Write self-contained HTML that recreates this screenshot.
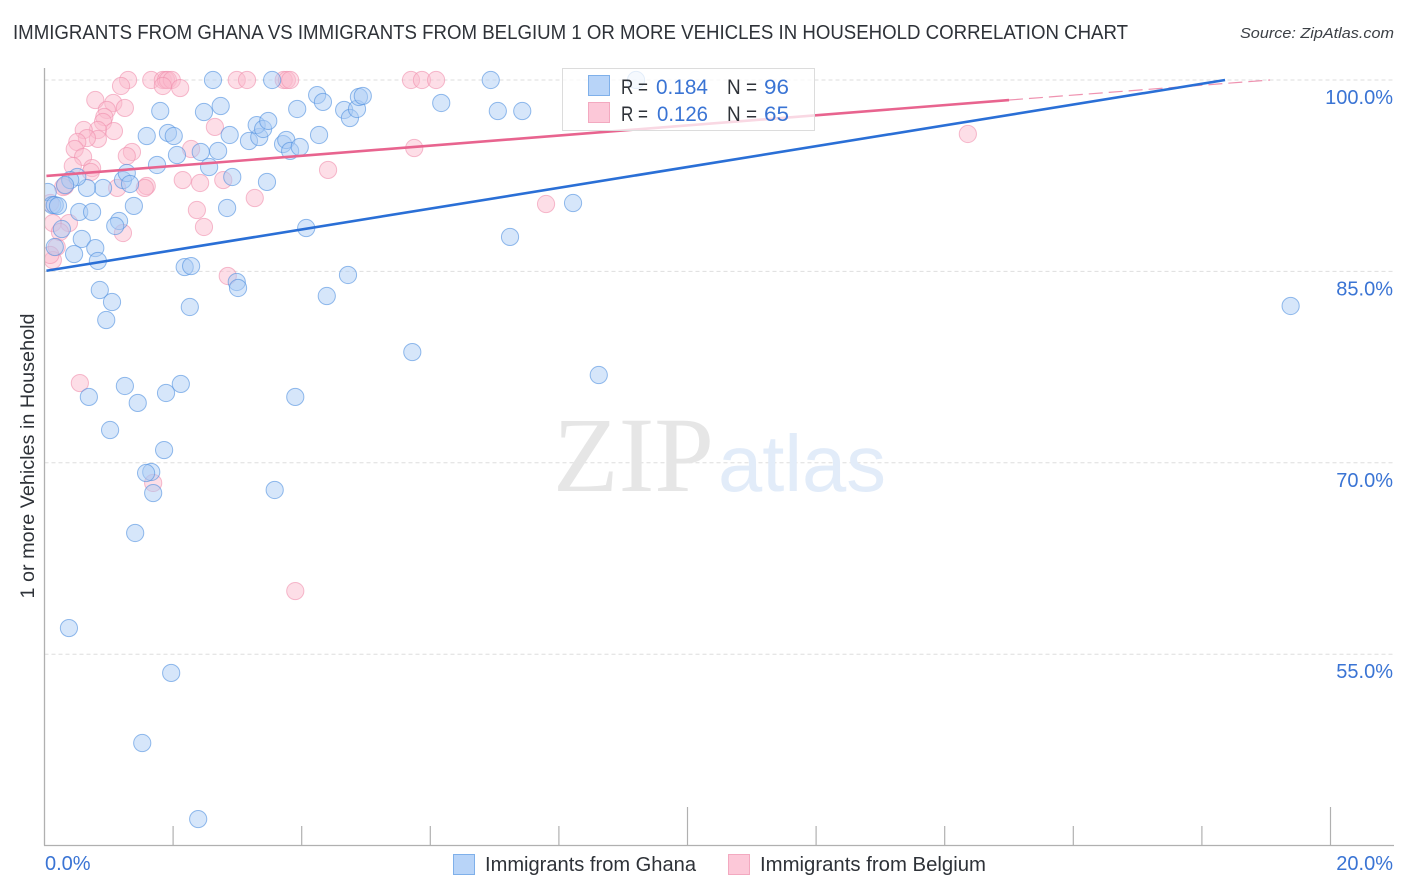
<!DOCTYPE html>
<html>
<head>
<meta charset="utf-8">
<title>Immigrants from Ghana vs Immigrants from Belgium correlation chart</title>
<style>
html,body{margin:0;padding:0;background:#fff;}
svg{display:block;font-family:"Liberation Sans",sans-serif;}
</style>
</head>
<body>
<svg id="chart" width="1406" height="892" viewBox="0 0 1406 892" xmlns="http://www.w3.org/2000/svg">
  <defs>
    <clipPath id="plot-clip"><rect x="45" y="60" width="1349" height="785"/></clipPath>
  </defs>
  <text x="13" y="39" font-size="20" fill="#2e3238" textLength="1115" lengthAdjust="spacingAndGlyphs">IMMIGRANTS FROM GHANA VS IMMIGRANTS FROM BELGIUM 1 OR MORE VEHICLES IN HOUSEHOLD CORRELATION CHART</text>
  <text x="1394" y="38" font-size="15" font-style="italic" fill="#3c4046" text-anchor="end" textLength="154" lengthAdjust="spacingAndGlyphs">Source: ZipAtlas.com</text>

  <g id="grid"></g>

  <g>
    <text x="553" y="491" font-family="'Liberation Serif',serif" font-size="107" fill="#e6e6e6" textLength="161" lengthAdjust="spacingAndGlyphs">ZIP</text>
    <text x="718" y="491" font-family="'Liberation Sans',sans-serif" font-size="80" fill="#e2ecf9" textLength="168" lengthAdjust="spacingAndGlyphs">atlas</text>
  </g>

  <g clip-path="url(#plot-clip)">
    <g id="points-belgium"></g>
    <g id="points-ghana"></g>
  </g>
  <g id="trends"></g>
  <g id="axes"></g>

  <g>
    <rect x="562.5" y="68.5" width="252" height="62" fill="#ffffff" fill-opacity="0.75" stroke="#dcdcdc"/>
    <rect x="588.5" y="75.5" width="21" height="20" fill="#b8d4f8" stroke="#7fb0ea"/>
    <rect x="588.5" y="102.5" width="21" height="20" fill="#fcc8d8" stroke="#f3a9c0"/>
    <g font-size="21">
      <text x="621" y="94" fill="#2e3238" textLength="27" lengthAdjust="spacingAndGlyphs">R =</text>
      <text x="656" y="94" fill="#3a74d4" textLength="52" lengthAdjust="spacingAndGlyphs">0.184</text>
      <text x="727" y="94" fill="#2e3238" textLength="30" lengthAdjust="spacingAndGlyphs">N =</text>
      <text x="764" y="94" fill="#3a74d4" textLength="25" lengthAdjust="spacingAndGlyphs">96</text>
      <text x="621" y="121" fill="#2e3238" textLength="27" lengthAdjust="spacingAndGlyphs">R =</text>
      <text x="657" y="121" fill="#3a74d4" textLength="51" lengthAdjust="spacingAndGlyphs">0.126</text>
      <text x="727" y="121" fill="#2e3238" textLength="30" lengthAdjust="spacingAndGlyphs">N =</text>
      <text x="764" y="121" fill="#3a74d4" textLength="25" lengthAdjust="spacingAndGlyphs">65</text>
    </g>
  </g>

  <text transform="translate(34,456) rotate(-90)" font-size="19" fill="#2e3238" text-anchor="middle" textLength="285" lengthAdjust="spacingAndGlyphs">1 or more Vehicles in Household</text>

  <g>
    <rect x="453.5" y="854.5" width="21" height="20" fill="#b8d4f8" stroke="#7fb0ea"/>
    <text x="485" y="871" font-size="20" fill="#2e3238" textLength="211" lengthAdjust="spacingAndGlyphs">Immigrants from Ghana</text>
    <rect x="728.5" y="854.5" width="21" height="20" fill="#fcc8d8" stroke="#f3a9c0"/>
    <text x="760" y="871" font-size="20" fill="#2e3238" textLength="226" lengthAdjust="spacingAndGlyphs">Immigrants from Belgium</text>
  </g>
</svg>
<script>
const ghanaX = [2.62,3.54,6.94,9.20,1.80,2.48,2.74,1.59,1.92,2.01,1.75,2.06,2.43,2.70,2.88,3.18,3.34,3.30,3.40,3.48,3.71,3.76,3.82,3.97,3.93,4.24,4.33,4.27,4.66,4.75,4.86,4.89,4.95,6.17,7.05,7.43,2.56,2.92,2.84,3.46,1.22,1.28,1.33,0.91,0.66,0.51,0.40,0.32,0.05,1.39,1.16,1.10,0.54,0.74,0.12,0.16,0.21,0.27,0.58,0.79,0.83,0.46,0.16,4.07,7.24,8.22,2.18,2.28,2.99,3.01,4.72,4.39,0.86,1.05,0.96,2.26,19.38,5.72,8.62,1.25,2.12,1.89,1.45,0.69,3.90,1.02,1.86,1.66,1.58,1.69,3.58,1.41,0.38,1.97,1.52,2.39];
const ghanaY = [100,100,100,100,97.57,97.49,97.96,95.61,95.85,95.61,93.34,94.12,94.36,94.44,95.69,95.22,95.53,96.47,96.16,96.79,94.98,95.30,94.44,94.75,97.73,98.82,98.28,95.69,97.65,97.02,97.73,98.67,98.75,98.20,97.57,97.57,93.18,92.40,89.97,92.01,92.16,92.71,91.85,91.54,91.54,92.40,92.16,91.77,91.22,90.13,88.95,88.56,89.66,89.66,90.20,90.20,90.13,88.32,87.54,86.83,85.82,86.36,86.91,88.40,87.70,90.36,85.34,85.42,84.17,83.70,84.72,83.07,83.54,82.60,81.19,82.21,82.29,78.68,76.88,76.02,76.18,75.47,74.69,75.16,75.16,72.57,71.00,69.28,69.20,67.63,67.87,64.50,57.05,53.53,48.04,42.08];
const belgiumX = [1.30,1.66,1.84,1.89,1.92,1.98,2.99,3.15,3.72,3.77,3.82,5.70,5.87,6.09,1.19,1.84,2.11,0.79,1.07,1.25,0.97,0.93,0.91,1.08,0.83,0.61,0.83,0.66,0.51,0.47,0.60,0.44,0.74,0.72,0.32,0.29,1.36,1.28,2.28,2.65,2.15,2.42,2.78,3.27,4.41,1.59,1.56,1.13,2.37,2.48,1.22,0.38,0.13,0.19,0.13,0.09,2.85,14.36,5.75,7.80,0.55,3.90,1.69,0.24,0.09];
const belgiumY = [100,100,100,100,100,100,100,100,100,100,100,100,100,100,99.53,99.53,99.37,98.43,98.20,97.81,97.65,97.10,96.71,96.00,96.08,96.08,95.38,95.45,95.14,94.59,93.97,93.26,93.10,92.79,91.69,91.61,94.36,94.04,94.59,96.32,92.16,91.93,92.16,90.75,92.95,91.69,91.54,91.54,89.81,88.48,88.01,88.79,88.79,86.91,85.89,86.29,84.64,95.77,94.67,90.28,76.25,59.95,68.42,88.09,90.36];
const ghanaTrendX = [0.03,18.36];
const ghanaTrendY = [85.05,100];
const belgiumTrendX = [0.03,15.0];
const belgiumTrendY = [92.48,98.43];
const belgiumDashX = [15.0,19.06];
const belgiumDashY = [98.43,100];
const yTicks = [100,85,70,55];
const yTickLabels = ["100.0%","85.0%","70.0%","55.0%"];
const xTicks = [2,4,6,8,10,12,14,16,18,20];
const xEndLabels = ["0.0%","20.0%"];

const NS = "http://www.w3.org/2000/svg";
function sx(v){ return 44.5 + v * 64.3; }
function sy(v){ return 80 + (100 - v) * 12.76; }
function make(tag, parent, attrs){
  const el = document.createElementNS(NS, tag);
  for (const k in attrs) el.setAttribute(k, attrs[k]);
  parent.appendChild(el);
  return el;
}

const grid = document.getElementById("grid");
const axes = document.getElementById("axes");
yTicks.forEach(function(t, i){
  const g = make("line", grid, {x1:44.5, x2:1394, y1:sy(t), y2:sy(t), stroke:"#dedede", "stroke-width":1, "stroke-dasharray":"4 3"});
  
  
  const lab = make("text", axes, {x:1393, y:sy(t) + 24, "text-anchor":"end", "font-size":20, fill:"#3a74d4"});
  lab.textContent = yTickLabels[i];
  
  
});

const leftAxis = make("line", axes, {x1:44.5, x2:44.5, y1:68, y2:845.5, stroke:"#b0b0b0", "stroke-width":1.3});


const bottomAxis = make("line", axes, {x1:44, x2:1394, y1:845.5, y2:845.5, stroke:"#b0b0b0", "stroke-width":1.3});


xTicks.forEach(function(t){
  const top = (t % 10 === 0) ? 807 : 826;
  const tick = make("line", axes, {x1:sx(t), x2:sx(t), y1:top, y2:845.5, stroke:"#b0b0b0", "stroke-width":1.2});
  
  
});
const xLabelStart = make("text", axes, {x:45, y:870, "font-size":20, fill:"#3a74d4"});
xLabelStart.textContent = xEndLabels[0];


const xLabelEnd = make("text", axes, {x:1393, y:870, "font-size":20, fill:"#3a74d4", "text-anchor":"end"});
xLabelEnd.textContent = xEndLabels[1];



const belgiumGroup = document.getElementById("points-belgium");
belgiumX.forEach(function(v, i){
  const c = make("circle", belgiumGroup, {cx:sx(v), cy:sy(belgiumY[i]), r:8.6, fill:"#fab9cd", "fill-opacity":0.48, stroke:"#f08fae", "stroke-opacity":0.6, "stroke-width":1});
  
  
});
const ghanaGroup = document.getElementById("points-ghana");
ghanaX.forEach(function(v, i){
  const c = make("circle", ghanaGroup, {cx:sx(v), cy:sy(ghanaY[i]), r:8.6, fill:"#a9cbf5", "fill-opacity":0.48, stroke:"#4f8fe0", "stroke-opacity":0.6, "stroke-width":1});
  
  
});

const trends = document.getElementById("trends");
const dashLine = make("line", trends, {x1:sx(belgiumDashX[0]), y1:sy(belgiumDashY[0]), x2:sx(belgiumDashX[1]), y2:sy(belgiumDashY[1]), stroke:"#e8648f", "stroke-width":1.2, "stroke-dasharray":"14 6", "stroke-opacity":0.7});


const belgiumLine = make("line", trends, {x1:sx(belgiumTrendX[0]), y1:sy(belgiumTrendY[0]), x2:sx(belgiumTrendX[1]), y2:sy(belgiumTrendY[1]), stroke:"#e8648f", "stroke-width":2.6});


const ghanaLine = make("line", trends, {x1:sx(ghanaTrendX[0]), y1:sy(ghanaTrendY[0]), x2:sx(ghanaTrendX[1]), y2:sy(ghanaTrendY[1]), stroke:"#2a6fd6", "stroke-width":2.6});


</script>
</body>
</html>
